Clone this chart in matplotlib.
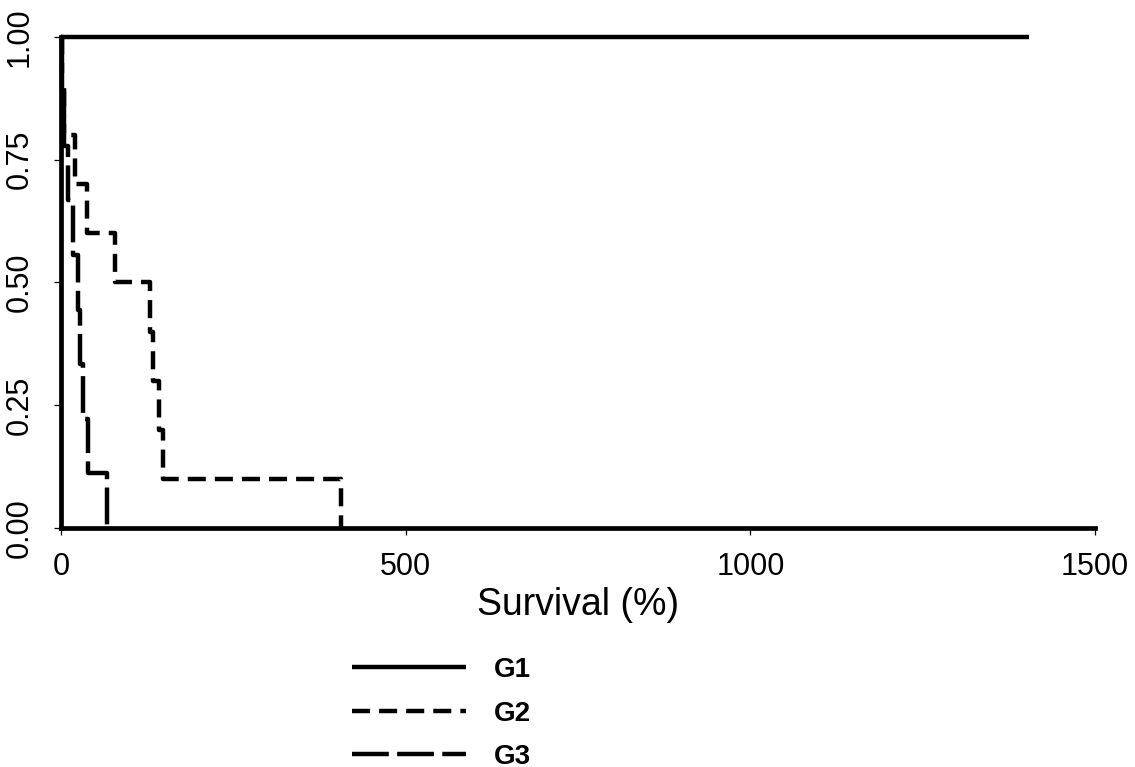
import matplotlib.pyplot as plt

plt.rcParams['font.family'] = ['Liberation Sans', 'DejaVu Sans']
plt.rcParams['lines.scale_dashes'] = False

# survival curves (time, survival fraction after the event)
g1_time = [0, 1404]
g1_surv = [1.0, 1.0]

g2_time = [0, 2, 5, 20, 38, 78, 129, 133, 142, 148, 151, 406]
g2_surv = [1.0, 0.9, 0.8, 0.7, 0.6, 0.5, 0.4, 0.3, 0.2, 0.1, 0.1, 0.0]

g3_time = [0, 2, 5, 10, 17, 25, 28, 32, 39, 67]
g3_surv = [1.0, 0.889, 0.778, 0.667, 0.556, 0.444, 0.333, 0.222, 0.111, 0.0]

labels = ['G1', 'G2', 'G3']
x_ticks = [0, 500, 1000, 1500]
y_ticks = [0.00, 0.25, 0.50, 0.75, 1.00]

fig = plt.figure(figsize=(11.35, 7.67), dpi=100)
ax = fig.add_axes([0.0537, 0.3116, 0.9111, 0.6402])

lw = 3.2
ax.step(g1_time, g1_surv, where='post', color='black', lw=lw, label=labels[0],
        clip_on=False, solid_capstyle='butt')
ax.step(g2_time, g2_surv, where='post', color='black', lw=lw, label=labels[1],
        dashes=(13, 6.5), clip_on=False)
ax.step(g3_time, g3_surv, where='post', color='black', lw=lw, label=labels[2],
        dashes=(26.5, 6), clip_on=False)

ax.set_xlim(0, 1500)
ax.set_ylim(0, 1)
ax.set_xticks(x_ticks)
ax.set_xticklabels([str(t) for t in x_ticks], fontsize=22)
ax.set_yticks(y_ticks)
ax.set_yticklabels(['%.2f' % t for t in y_ticks], fontsize=22, rotation=90, va='center')
ax.tick_params(direction='out', length=5, width=0.9)
ax.tick_params(axis='x', pad=12)
ax.tick_params(axis='y', pad=14)

for s in ['top', 'right']:
    ax.spines[s].set_visible(False)
for s in ['left', 'bottom']:
    ax.spines[s].set_linewidth(3.4)

ax.set_xlabel('Survival (%)', fontsize=27, labelpad=4)

leg = ax.legend(loc='upper left', bbox_to_anchor=(0.257, -0.212), frameon=False,
                handlelength=4.1, handletextpad=1.0, labelspacing=0.63,
                prop={'size': 20, 'weight': 'bold'})

fig.savefig('out.png', dpi=100)
